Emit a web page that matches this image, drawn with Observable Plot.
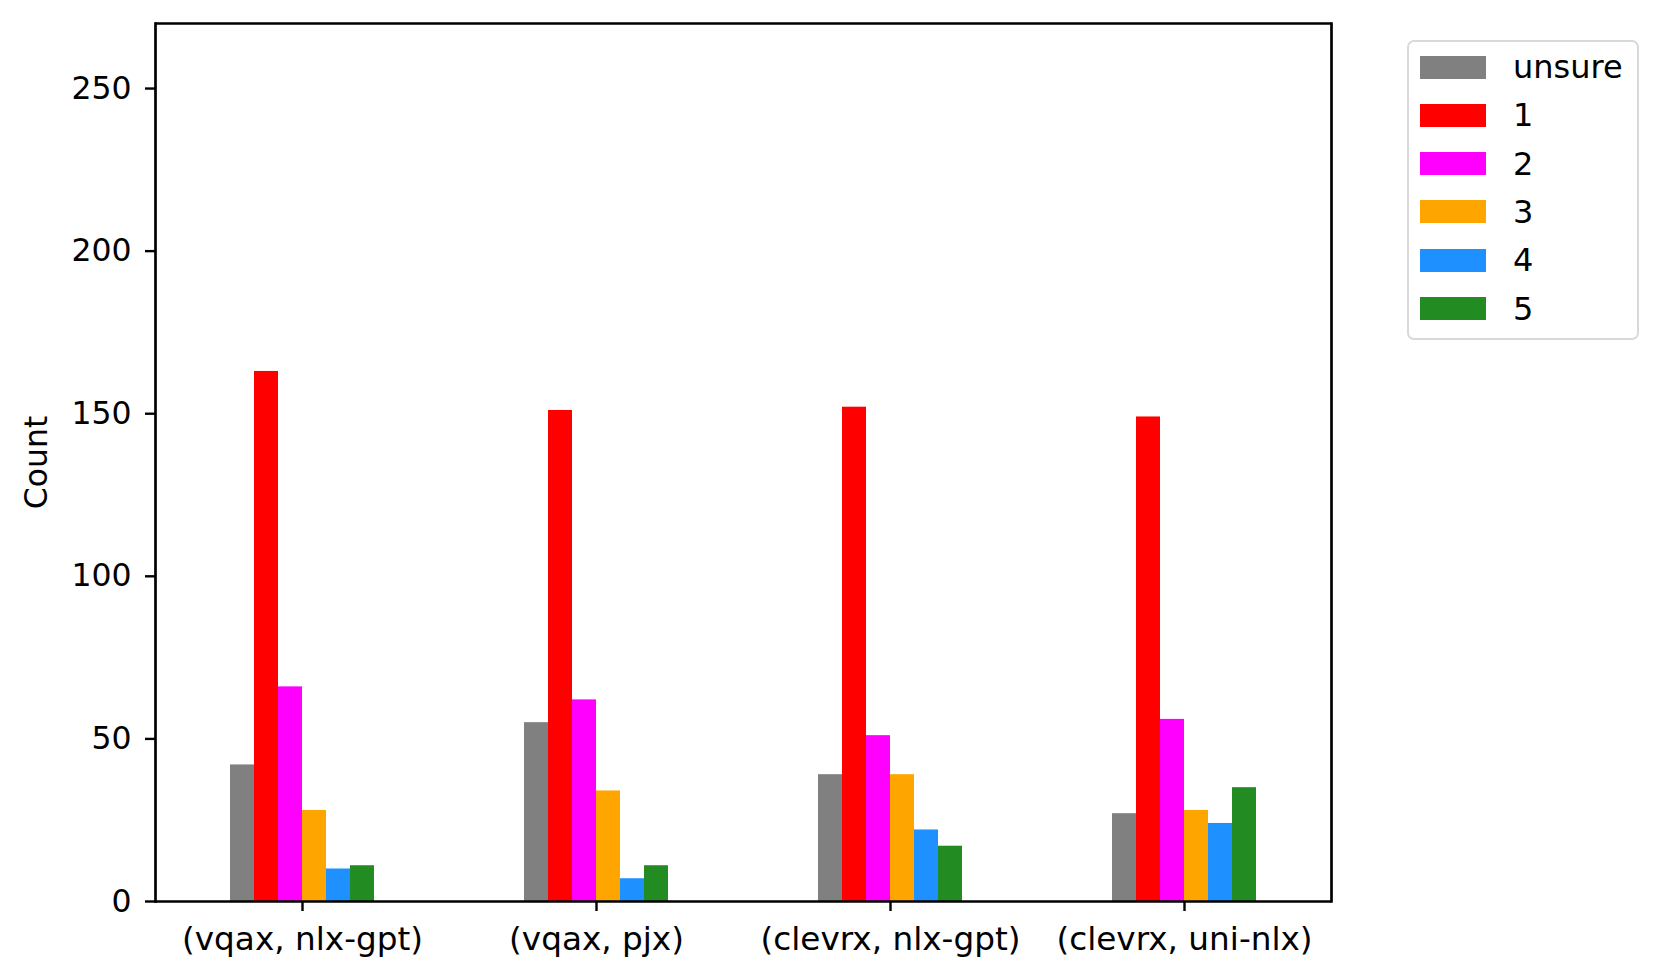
<!DOCTYPE html>
<html>
<head>
<meta charset="utf-8">
<script src="https://cdn.jsdelivr.net/npm/d3@7"></script>
<script src="https://cdn.jsdelivr.net/npm/@observablehq/plot@0.6"></script>
<style>
  html, body { margin: 0; padding: 0; background: #fff; }
  body { font-family: "DejaVu Sans", sans-serif; color: #000; }
  #wrap { position: relative; width: 1662px; height: 979px; overflow: hidden; }
  #legend { position: absolute; left: 1407px; top: 40px; width: 232px; height: 300px;
            border: 2.7px solid #d9d9d9; border-radius: 7px; box-sizing: border-box; background: #fff; }
  .row { position: absolute; left: 0; height: 34px; width: 100%; }
  .sw { position: absolute; left: 11px; top: 5.5px; width: 66px; height: 23px; }
  .lab { position: absolute; left: 104px; top: 0; line-height: 34px; font-size: 32px; }
</style>
</head>
<body>
<div id="wrap"><div id="chart"></div><div id="legend"></div></div>
<script>
const categories = ["(vqax, nlx-gpt)", "(vqax, pjx)", "(clevrx, nlx-gpt)", "(clevrx, uni-nlx)"];
const seriesNames = ["unsure", "1", "2", "3", "4", "5"];
const seriesColors = ["#808080", "#ff0000", "#ff00ff", "#ffa500", "#1e90ff", "#228b22"];
const unsureVals = [42, 55, 39, 27];
const oneVals = [163, 151, 152, 149];
const twoVals = [66, 62, 51, 56];
const threeVals = [28, 34, 39, 28];
const fourVals = [10, 7, 22, 24];
const fiveVals = [11, 11, 17, 35];
const yTicks = [0, 50, 100, 150, 200, 250];
const yMax = 270;

const seriesValues = [unsureVals, oneVals, twoVals, threeVals, fourVals, fiveVals];
const table = [];
categories.forEach((c, ci) => {
  seriesNames.forEach((s, si) => {
    table.push({cat: c, series: s, value: seriesValues[si][ci]});
  });
});

const lw = 2.7;
const chart = Plot.plot({
  width: 1662,
  height: 979,
  marginLeft: 155,
  marginRight: 331,
  marginTop: 23,
  marginBottom: 78,
  style: {fontFamily: "DejaVu Sans, sans-serif", fontSize: "32px", background: "white", color: "black"},
  fx: {domain: categories, padding: 0, label: null},
  x: {domain: seriesNames, paddingInner: 0, paddingOuter: 3, axis: null},
  y: {domain: [0, yMax]},
  color: {domain: seriesNames, range: seriesColors},
  marks: [
    Plot.barY(table, {fx: "cat", x: "series", y: "value", fill: "series"}),
    Plot.ruleY([0], {stroke: "black", strokeWidth: lw}),
    Plot.ruleY([yMax], {stroke: "black", strokeWidth: lw}),
    Plot.frame({anchor: "left", facetAnchor: "left", stroke: "black", strokeWidth: lw}),
    Plot.frame({anchor: "right", facetAnchor: "right", stroke: "black", strokeWidth: lw}),
    Plot.axisY({ticks: yTicks, tickSize: 10, tickPadding: 14, strokeWidth: 2.4, fontSize: 31.5,
                label: "Count", labelAnchor: "center", labelArrow: "none", labelOffset: 131}),
    Plot.axisFx({anchor: "bottom", tickSize: 10, tickPadding: 15, strokeWidth: 2.4, fontSize: 32.7, label: null})
  ]
});
document.getElementById("chart").appendChild(chart);

const legend = document.getElementById("legend");
seriesNames.forEach((s, i) => {
  const row = document.createElement("div");
  row.className = "row";
  row.style.top = (26.7 - 17 - 1.7 + i * 48.3) + "px";
  const sw = document.createElement("div");
  sw.className = "sw";
  sw.style.background = seriesColors[i];
  const lab = document.createElement("div");
  lab.className = "lab";
  lab.textContent = s;
  row.appendChild(sw);
  row.appendChild(lab);
  legend.appendChild(row);
});
</script>
</body>
</html>
